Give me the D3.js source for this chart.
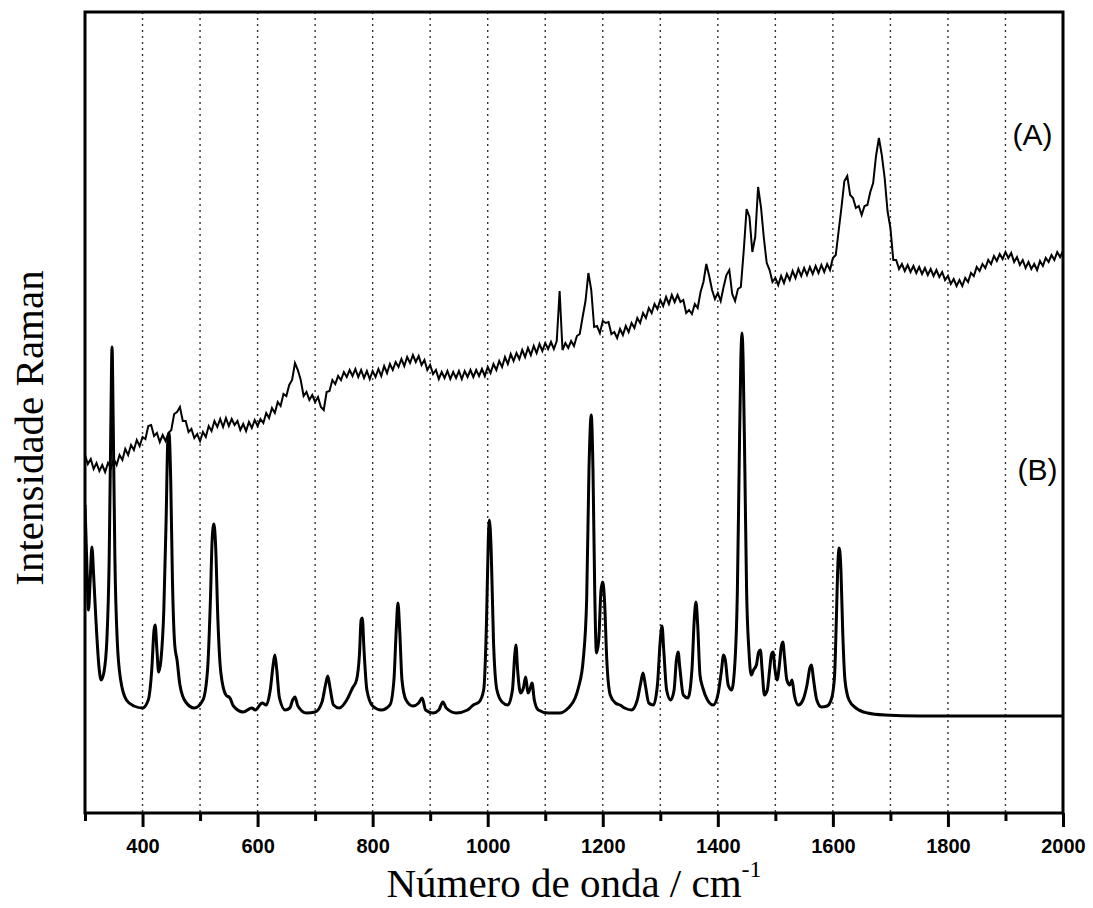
<!DOCTYPE html>
<html>
<head>
<meta charset="utf-8">
<script src="https://cdn.jsdelivr.net/npm/d3@7"></script>
<style>
  body { margin: 0; background: #fff; }
</style>
</head>
<body>
<div id="chart"></div>
<script>
// x axis ticks (wavenumber, cm-1)
var majorTicks = [400, 600, 800, 1000, 1200, 1400, 1600, 1800, 2000];
var minorTicks = [300, 500, 700, 900, 1100, 1300, 1500, 1700, 1900];
var gridLines = [400, 500, 600, 700, 800, 900, 1000, 1100, 1200, 1300, 1400, 1500, 1600, 1700, 1800, 1900];

// spectrum (A): experimental, one value every 5 cm-1 from 300 to 2000
var aStart = 300, aStep = 5;
var aValues = [
  358,349,354,344,350,342,348,341,350,345,354,348,358,353,364,358,368,363,373,367,
  376,374,387,388,377,380,371,378,372,380,383,399,401,406,392,392,381,384,375,379,
  372,381,376,387,382,392,386,394,386,395,387,394,388,392,383,389,382,391,385,393,
  387,394,390,400,395,405,400,411,407,419,417,428,433,450,443,433,417,421,413,418,
  411,416,406,403,421,422,433,429,437,433,441,436,443,437,444,436,443,435,442,434,
  442,436,444,437,447,440,449,443,451,446,454,447,456,450,458,451,457,448,453,443,
  448,439,443,434,441,435,442,434,441,435,442,434,442,436,443,436,443,437,444,437,
  446,440,449,443,452,446,456,449,459,452,460,454,463,456,465,458,467,460,469,462,
  470,464,471,464,472,522,463,470,465,472,467,477,479,496,512,540,523,486,487,480,
  492,490,491,479,481,475,484,478,487,481,490,485,495,490,500,495,505,500,509,504,
  513,507,516,509,518,511,518,511,513,500,503,499,509,505,521,531,549,537,523,514,
  520,512,526,538,543,519,512,524,526,562,604,596,561,576,626,606,575,550,543,531,
  535,528,537,530,539,533,542,535,544,537,545,538,546,539,547,540,548,541,549,543,
  555,558,582,606,632,637,618,615,605,607,598,607,608,621,630,657,675,658,635,602,
  585,553,553,544,549,542,548,541,547,540,546,539,545,538,544,537,543,536,541,533,
  537,529,534,527,533,527,535,531,540,537,546,542,549,545,553,549,557,552,559,554,
  561,555,560,551,556,548,553,545,551,544,549,543,552,547,555,551,558,553,561,556,
  562
];

// spectrum (B): calculated, [wavenumber, intensity]
var bPoints = [
  [300,308],[303,253],[306,203],[309,233],[312,266],[315,238],[319,193],[324,148],[328,133],
  [333,141],[338,173],[342,253],[345,393],[347,466],[349,393],[352,253],[356,173],[362,133],
  [372,113],[385,107],[400,105],[410,113],[416,143],[420,183],[422,188],[425,163],[428,141],
  [432,153],[437,203],[441,293],[444,373],[446,380],[449,333],[452,233],[456,168],[460,153],
  [465,128],[475,111],[490,105],[505,113],[513,143],[518,213],[521,273],[524,289],[527,268],
  [531,193],[536,141],[545,118],[552,115],[558,107],[575,101],[590,105],[596,103],[608,110],
  [615,108],[622,123],[627,148],[630,158],[633,145],[638,115],[648,103],[656,105],[661,113],
  [665,116],[670,107],[685,100],[700,101],[712,111],[718,128],[722,137],[726,125],[732,108],
  [742,105],[755,113],[765,125],[772,133],[777,158],[780,193],[782,195],[785,163],[790,123],
  [800,107],[815,103],[830,108],[837,133],[841,183],[844,210],[847,183],[851,133],[858,113],
  [870,107],[880,110],[886,115],[892,103],[905,100],[915,103],[922,111],[928,105],[945,100],
  [965,103],[975,108],[985,111],[993,123],[998,193],[1001,273],[1003,293],[1006,263],
  [1010,173],[1016,123],[1025,111],[1035,108],[1043,123],[1047,158],[1049,168],[1052,143],
  [1057,120],[1062,125],[1066,136],[1070,120],[1074,125],[1077,130],[1081,113],[1088,103],
  [1105,100],[1125,100],[1140,105],[1152,115],[1158,126],[1166,153],[1172,213],[1176,343],
  [1180,398],[1183,343],[1186,223],[1189,160],[1193,173],[1197,223],[1200,231],[1203,213],
  [1207,153],[1213,118],[1222,110],[1230,108],[1238,105],[1250,103],[1260,113],[1266,130],
  [1270,140],[1274,128],[1280,110],[1288,108],[1295,128],[1300,173],[1303,187],[1306,163],
  [1311,123],[1318,113],[1324,123],[1328,153],[1331,161],[1334,145],[1340,118],[1348,115],
  [1355,143],[1359,193],[1362,211],[1365,188],[1369,138],[1374,125],[1382,113],[1392,108],
  [1400,118],[1406,141],[1410,158],[1413,153],[1418,128],[1424,123],[1430,153],[1434,223],
  [1437,343],[1440,453],[1442,480],[1444,453],[1447,343],[1450,223],[1454,163],[1458,138],
  [1462,143],[1467,148],[1471,161],[1474,163],[1477,143],[1481,118],[1486,123],[1490,143],
  [1493,158],[1496,161],[1499,145],[1503,133],[1507,148],[1510,165],[1513,171],[1516,155],
  [1520,133],[1525,128],[1529,133],[1533,118],[1540,108],[1548,113],[1555,128],[1560,145],
  [1563,148],[1566,135],[1572,113],[1580,106],[1590,107],[1598,115],[1603,138],[1606,193],
  [1609,253],[1611,265],[1614,243],[1617,183],[1621,133],[1628,113],[1640,105],[1660,100],
  [1690,98],[1750,97],[1850,97],[2000,97]
];

function init() {
  var w = 1093, h = 908;
  var left = 85, right = 1063, top = 12, bottom = 813;

  var svg = d3.select("#chart")
              .append("svg")
              .attr("width", w)
              .attr("height", h);

  var x = d3.scaleLinear().domain([300, 2000]).range([left, right]);
  var y = d3.scaleLinear().domain([0, 801]).range([bottom, top]);

  svg.append("clipPath").attr("id", "plot")
     .append("rect")
     .attr("x", left).attr("y", top)
     .attr("width", right - left).attr("height", bottom - top);

  // dotted vertical grid
  svg.append("g")
     .selectAll("line")
     .data(gridLines)
     .enter()
     .append("line")
     .attr("x1", function(d) { return x(d); })
     .attr("x2", function(d) { return x(d); })
     .attr("y1", top)
     .attr("y2", bottom)
     .attr("stroke", "#333")
     .attr("stroke-width", 1.4)
     .attr("stroke-dasharray", "2,4");

  var line = d3.line()
               .x(function(d) { return x(d[0]); })
               .y(function(d) { return y(d[1]); });

  var aPoints = aValues.map(function(v, i) { return [aStart + i * aStep, v]; });

  svg.append("path")
     .datum(bPoints)
     .attr("clip-path", "url(#plot)")
     .attr("fill", "none")
     .attr("stroke", "#000")
     .attr("stroke-width", 3)
     .attr("stroke-linejoin", "round")
     .attr("d", line.curve(d3.curveMonotoneX));

  svg.append("path")
     .datum(aPoints)
     .attr("clip-path", "url(#plot)")
     .attr("fill", "none")
     .attr("stroke", "#000")
     .attr("stroke-width", 2)
     .attr("d", line.curve(d3.curveLinear));

  // bottom axis: major + minor ticks
  var major = svg.append("g")
                 .attr("transform", "translate(0," + bottom + ")")
                 .call(d3.axisBottom(x).tickValues(majorTicks).tickSize(14).tickPadding(12)
                         .tickFormat(d3.format("d")));
  var minor = svg.append("g")
                 .attr("transform", "translate(0," + bottom + ")")
                 .call(d3.axisBottom(x).tickValues(minorTicks).tickSize(8).tickFormat(""));
  [major, minor].forEach(function(g) {
    g.select(".domain").remove();
    g.selectAll(".tick line").attr("stroke", "#000").attr("stroke-width", 3);
  });
  major.selectAll(".tick text")
       .attr("fill", "#000")
       .style("font-family", "'Liberation Sans', Arial, sans-serif")
       .style("font-weight", "bold")
       .style("font-size", "20px");

  // frame
  svg.append("rect")
     .attr("x", left).attr("y", top)
     .attr("width", right - left).attr("height", bottom - top)
     .attr("fill", "none")
     .attr("stroke", "#000")
     .attr("stroke-width", 3);

  // axis titles
  var xt = svg.append("text")
              .attr("x", (left + right) / 2)
              .attr("y", 897)
              .attr("text-anchor", "middle")
              .style("font-family", "'Liberation Serif', 'Times New Roman', serif")
              .style("font-size", "41px")
              .attr("fill", "#000");
  xt.append("tspan").text("Número de onda / cm");
  xt.append("tspan").attr("dy", -20).style("font-size", "24px").text("-1");

  svg.append("text")
     .attr("transform", "translate(43,428) rotate(-90)")
     .attr("text-anchor", "middle")
     .style("font-family", "'Liberation Serif', 'Times New Roman', serif")
     .style("font-size", "41px")
     .attr("fill", "#000")
     .text("Intensidade Raman");

  // spectrum labels
  svg.append("text")
     .attr("x", x(1900) + 27).attr("y", y(801 - 133))
     .attr("text-anchor", "middle")
     .style("font-family", "'Liberation Sans', Arial, sans-serif")
     .style("font-size", "30px")
     .text("(A)");
  svg.append("text")
     .attr("x", x(1900) + 32).attr("y", y(801 - 468))
     .attr("text-anchor", "middle")
     .style("font-family", "'Liberation Sans', Arial, sans-serif")
     .style("font-size", "30px")
     .text("(B)");
}

window.onload = init;
</script>
</body>
</html>
